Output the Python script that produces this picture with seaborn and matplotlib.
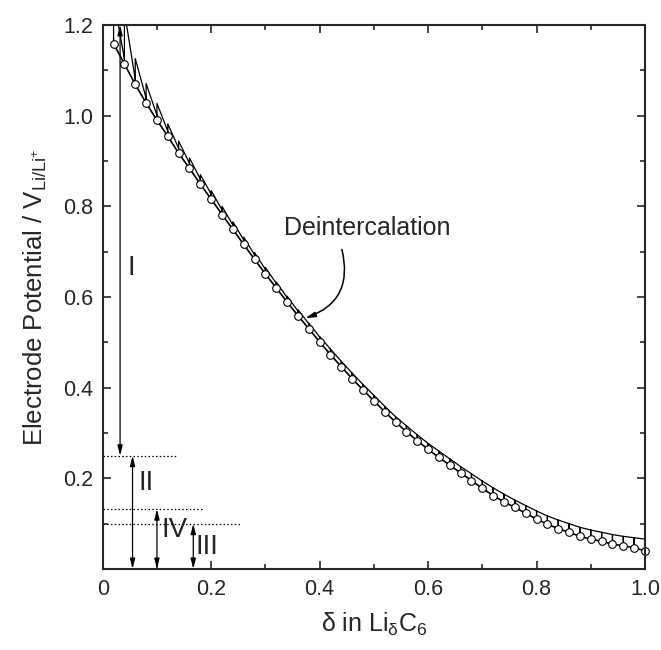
import numpy as np
import pandas as pd
import matplotlib
matplotlib.use("Agg")
import matplotlib.pyplot as plt
from matplotlib.ticker import MultipleLocator
import seaborn as sns

# ================================
# DATA
# ================================
delta = [0.02, 0.04, 0.06, 0.08, 0.10, 0.12, 0.14, 0.16, 0.18, 0.20,
         0.22, 0.24, 0.26, 0.28, 0.30, 0.32, 0.34, 0.36, 0.38, 0.40,
         0.42, 0.44, 0.46, 0.48, 0.50, 0.52, 0.54, 0.56, 0.58, 0.60,
         0.62, 0.64, 0.66, 0.68, 0.70, 0.72, 0.74, 0.76, 0.78, 0.80,
         0.82, 0.84, 0.86, 0.88, 0.90, 0.92, 0.94, 0.96, 0.98, 1.00]

# open circles
v_circle = [1.159, 1.114, 1.069, 1.028, 0.990, 0.955, 0.917, 0.884, 0.849, 0.816,
            0.782, 0.749, 0.716, 0.683, 0.651, 0.620, 0.589, 0.559, 0.530, 0.501,
            0.473, 0.446, 0.420, 0.395, 0.371, 0.347, 0.324, 0.303, 0.283, 0.264,
            0.246, 0.229, 0.212, 0.195, 0.178, 0.162, 0.148, 0.136, 0.123, 0.110,
            0.099, 0.089, 0.081, 0.072, 0.066, 0.061, 0.055, 0.051, 0.047, 0.040]

# deintercalation trace: relaxed level, pulse end level, IR-jump level
v_relax = [1.165, 1.120, 1.075, 1.034, 0.996, 0.961, 0.923, 0.890, 0.855, 0.822,
           0.788, 0.755, 0.722, 0.689, 0.657, 0.626, 0.595, 0.565, 0.536, 0.507,
           0.479, 0.452, 0.426, 0.401, 0.377, 0.353, 0.330, 0.309, 0.289, 0.270,
           0.252, 0.235, 0.218, 0.201, 0.184, 0.168, 0.154, 0.142, 0.129, 0.116,
           0.105, 0.095, 0.087, 0.078, 0.072, 0.067, 0.061, 0.057, 0.053, 0.046]
v_peak = [1.260, 1.230, 1.126, 1.071, 1.027, 0.982, 0.944, 0.907, 0.870, 0.835,
          0.800, 0.766, 0.732, 0.698, 0.665, 0.633, 0.602, 0.572, 0.542, 0.513,
          0.485, 0.458, 0.432, 0.407, 0.383, 0.359, 0.336, 0.316, 0.296, 0.277,
          0.260, 0.243, 0.226, 0.210, 0.194, 0.179, 0.165, 0.152, 0.140, 0.128,
          0.117, 0.108, 0.100, 0.092, 0.086, 0.081, 0.076, 0.072, 0.069, 0.066]
v_jump = [1.170, 1.125, 1.080, 1.039, 1.001, 0.966, 0.928, 0.895, 0.860, 0.827,
          0.792, 0.759, 0.726, 0.693, 0.661, 0.630, 0.599, 0.569, 0.541, 0.512,
          0.485, 0.458, 0.432, 0.407, 0.383, 0.359, 0.336, 0.316, 0.296, 0.277,
          0.260, 0.243, 0.226, 0.210, 0.194, 0.179, 0.165, 0.152, 0.140, 0.128,
          0.117, 0.108, 0.100, 0.092, 0.086, 0.081, 0.076, 0.072, 0.069, 0.066]

# stage annotations
stage_labels = ["I", "II", "IV", "III"]
stage_x = [0.032, 0.055, 0.100, 0.167]
stage_lo = [0.25, 0.0, 0.0, 0.0]
stage_hi = [1.20, 0.25, 0.132, 0.100]
stage_text_x = [0.052, 0.080, 0.132, 0.193]
stage_text_y = [0.665, 0.190, 0.086, 0.049]
level_y = [0.25, 0.132, 0.100]
level_xmax = [0.137, 0.185, 0.253]

# ================================
# BUILD TRACE PATH
# ================================
px, py = [], []
for x, j, r, p in zip(delta, v_jump, v_relax, v_peak):
    px += [x, x, x]
    py += [j, r, p]
trace = pd.DataFrame({"x": px, "y": py})
circles = pd.DataFrame({"x": delta, "y": v_circle})

# ================================
# PLOT
# ================================
sns.set_style("ticks")
plt.rcParams["font.family"] = ["Liberation Sans", "DejaVu Sans"]
plt.rcParams["mathtext.fontset"] = "custom"
plt.rcParams["mathtext.rm"] = "Liberation Sans"
plt.rcParams["mathtext.it"] = "Liberation Sans"

fig = plt.figure(figsize=(6.61, 6.5), dpi=100)
ax = fig.add_axes([0.1554, 0.1246, 0.8204, 0.8369])

sns.lineplot(data=trace, x="x", y="y", sort=False, estimator=None,
             color="black", lw=0.9, ax=ax)
sns.lineplot(data=circles, x="x", y="y", sort=False, estimator=None,
             color="black", lw=1.2, marker="o", markersize=5.5,
             markerfacecolor="white", markeredgecolor="black",
             markeredgewidth=0.8, ax=ax, clip_on=False)

# dotted level lines
for yv, xm in zip(level_y, level_xmax):
    ax.plot([0, xm], [yv, yv], ls=(0, (1.2, 1.8)), color="black", lw=0.9)

# double arrows for the stages
for lab, x, lo, hi, tx, ty in zip(stage_labels, stage_x, stage_lo, stage_hi,
                                  stage_text_x, stage_text_y):
    ax.annotate("", xy=(x, hi), xytext=(x, lo),
                arrowprops=dict(arrowstyle="<|-|>,head_length=0.6,head_width=0.15",
                                color="black", lw=0.9, shrinkA=0, shrinkB=0))
    ax.text(tx, ty, lab, fontsize=20, ha="center", va="center")

ax.text(0.488, 0.752, "Deintercalation", fontsize=18, ha="center", va="center")
ax.annotate("", xy=(0.373, 0.553), xytext=(0.441, 0.705),
            arrowprops=dict(arrowstyle="-|>,head_length=0.6,head_width=0.15",
                            color="black", lw=1.1,
                            connectionstyle="arc3,rad=-0.45",
                            shrinkA=0, shrinkB=0))

ax.set_xlim(0, 1.0)
ax.set_ylim(0, 1.2)
ax.set_xticks([0, 0.2, 0.4, 0.6, 0.8, 1.0])
ax.set_xticklabels(["0", "0.2", "0.4", "0.6", "0.8", "1.0"])
ax.set_yticks([0.2, 0.4, 0.6, 0.8, 1.0, 1.2])
ax.set_yticklabels(["0.2", "0.4", "0.6", "0.8", "1.0", "1.2"])
ax.xaxis.set_minor_locator(MultipleLocator(0.1))
ax.yaxis.set_minor_locator(MultipleLocator(0.1))
ax.tick_params(which="both", direction="in", top=True, right=True,
               width=1.2, labelsize=15.5)
ax.tick_params(which="major", length=6, pad=7)
ax.tick_params(which="minor", length=3.5)
for s in ax.spines.values():
    s.set_linewidth(1.5)

ax.set_xlabel(r"$\delta$ in Li$_{\delta}$C$_{6}$", fontsize=18, labelpad=8)
ax.set_ylabel(r"Electrode Potential / V$_{\mathrm{Li/Li^{+}}}$", fontsize=18.5, labelpad=10)

plt.savefig("out.png", dpi=100)
plt.close()
